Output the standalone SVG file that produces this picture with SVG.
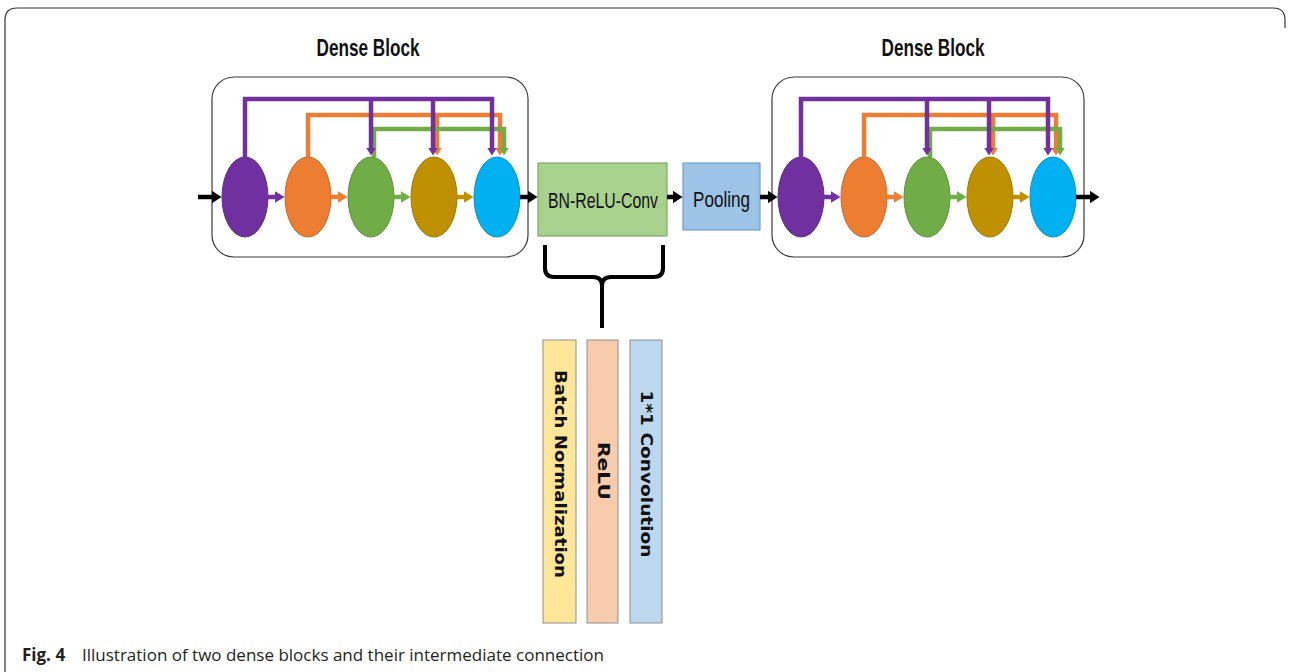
<svg xmlns="http://www.w3.org/2000/svg" width="1290" height="672" viewBox="0 0 1290 672">
<style>
.frame{fill:none;stroke:#333;stroke-width:1.2}
.blk{fill:#fff;stroke:#3a3a3a;stroke-width:1.2}
.title{font-family:"Liberation Sans Narrow","Liberation Sans",Arial,sans-serif;font-weight:bold;font-size:24px;fill:#111;text-anchor:middle}
.lbl{font-family:"Liberation Sans Narrow","Liberation Sans",Arial,sans-serif;font-size:22px;fill:#111;text-anchor:middle}
.vt{font-family:"DejaVu Sans",sans-serif;font-weight:bold;font-size:15px;fill:#111;text-anchor:middle;dominant-baseline:central}
.cap{font-family:"Open Sans",sans-serif;font-size:17px;fill:#231f20}
.c{fill:none;stroke-width:4.5;stroke-linecap:butt;stroke-linejoin:miter}
.p{stroke:#7030a0}.o{stroke:#ed7d31}.g{stroke:#70ad47}.y{stroke:#bf9000}.k{stroke:#000}
.mP{marker-end:url(#mP)}.mO{marker-end:url(#mO)}.mG{marker-end:url(#mG)}.mY{marker-end:url(#mY)}.mK{marker-end:url(#mK)}
.hP{marker-end:url(#hP)}.hO{marker-end:url(#hO)}.hG{marker-end:url(#hG)}.hY{marker-end:url(#hY)}
</style>
<defs>
<marker id="mP" markerUnits="userSpaceOnUse" markerWidth="8" markerHeight="10" refX="0.5" refY="5" orient="auto"><path d="M0,0 L8,5 L0,10 z" fill="#7030a0"/></marker>
<marker id="mO" markerUnits="userSpaceOnUse" markerWidth="8" markerHeight="10" refX="0.5" refY="5" orient="auto"><path d="M0,0 L8,5 L0,10 z" fill="#ed7d31"/></marker>
<marker id="mG" markerUnits="userSpaceOnUse" markerWidth="8" markerHeight="10" refX="0.5" refY="5" orient="auto"><path d="M0,0 L8,5 L0,10 z" fill="#70ad47"/></marker>
<marker id="mY" markerUnits="userSpaceOnUse" markerWidth="8" markerHeight="10" refX="0.5" refY="5" orient="auto"><path d="M0,0 L8,5 L0,10 z" fill="#bf9000"/></marker>
<marker id="hP" markerUnits="userSpaceOnUse" markerWidth="10" markerHeight="12" refX="0.5" refY="6" orient="auto"><path d="M0,0 L10,6 L0,12 z" fill="#7030a0"/></marker>
<marker id="hO" markerUnits="userSpaceOnUse" markerWidth="10" markerHeight="12" refX="0.5" refY="6" orient="auto"><path d="M0,0 L10,6 L0,12 z" fill="#ed7d31"/></marker>
<marker id="hG" markerUnits="userSpaceOnUse" markerWidth="10" markerHeight="12" refX="0.5" refY="6" orient="auto"><path d="M0,0 L10,6 L0,12 z" fill="#70ad47"/></marker>
<marker id="hY" markerUnits="userSpaceOnUse" markerWidth="10" markerHeight="12" refX="0.5" refY="6" orient="auto"><path d="M0,0 L10,6 L0,12 z" fill="#bf9000"/></marker>
<marker id="mK" markerUnits="userSpaceOnUse" markerWidth="10" markerHeight="13" refX="0.5" refY="6.5" orient="auto"><path d="M0,0 L10,6.5 L0,13 z" fill="#000"/></marker>
</defs>
<rect width="1290" height="672" fill="#fff"/>
<path class="frame" d="M5,672 V20 Q5,8 17,8 H1273 Q1285,8 1285,20 V28"/>

<g id="block1">
<text class="title" x="368" y="56" textLength="103" lengthAdjust="spacingAndGlyphs">Dense Block</text>
<rect class="blk" x="212" y="77" width="316" height="180" rx="22"/>
</g>
<g id="b1n1"><ellipse cx="245" cy="197" rx="23" ry="40" fill="#7030a0" stroke="#5e2a88" stroke-width="1"/></g>
<g id="b1n2"><ellipse cx="308" cy="197" rx="23" ry="40" fill="#ed7d31" stroke="#c9682a" stroke-width="1"/></g>
<g id="b1n3"><ellipse cx="371" cy="197" rx="23" ry="40" fill="#70ad47" stroke="#5d9139" stroke-width="1"/></g>
<g id="b1n4"><ellipse cx="434" cy="197" rx="23" ry="40" fill="#bf9000" stroke="#9e7800" stroke-width="1"/></g>
<g id="b1n5"><ellipse cx="497" cy="197" rx="23" ry="40" fill="#00b0f0" stroke="#0093c8" stroke-width="1"/></g>

<g id="block2">
<text class="title" x="933" y="56" textLength="103" lengthAdjust="spacingAndGlyphs">Dense Block</text>
<rect class="blk" x="772" y="77" width="312" height="180" rx="22"/>
</g>
<g id="b2n1"><ellipse cx="801" cy="197" rx="23" ry="40" fill="#7030a0" stroke="#5e2a88" stroke-width="1"/></g>
<g id="b2n2"><ellipse cx="864" cy="197" rx="23" ry="40" fill="#ed7d31" stroke="#c9682a" stroke-width="1"/></g>
<g id="b2n3"><ellipse cx="927" cy="197" rx="23" ry="40" fill="#70ad47" stroke="#5d9139" stroke-width="1"/></g>
<g id="b2n4"><ellipse cx="990" cy="197" rx="23" ry="40" fill="#bf9000" stroke="#9e7800" stroke-width="1"/></g>
<g id="b2n5"><ellipse cx="1053" cy="197" rx="23" ry="40" fill="#00b0f0" stroke="#0093c8" stroke-width="1"/></g>

<g id="bnrelu">
<rect x="538" y="163" width="129" height="73" fill="#a9d18e" stroke="#7fa866" stroke-width="1.2"/>
<text class="lbl" x="603" y="208" textLength="110" lengthAdjust="spacingAndGlyphs">BN-ReLU-Conv</text>
</g>
<g id="pooling">
<rect x="683" y="163" width="77" height="67" fill="#9dc3e6" stroke="#6f9ecf" stroke-width="1.2"/>
<text class="lbl" x="721.5" y="207" textLength="57" lengthAdjust="spacingAndGlyphs">Pooling</text>
</g>
<g id="brace">
<path d="M545,245 V268 Q545,277 554,277 H593 Q602,277 602,286 V328 M663,245 V268 Q663,277 654,277 H611 Q602,277 602,286" fill="none" stroke="#000" stroke-width="4"/>
</g>
<g id="batchnorm">
<rect x="543" y="340" width="33" height="283" fill="#ffe699" stroke="#8f8f8f" stroke-width="1"/>
<text class="vt" transform="translate(559.5,474) rotate(90)" textLength="208" lengthAdjust="spacingAndGlyphs">Batch Normalization</text>
</g>
<g id="relu">
<rect x="587" y="340" width="31" height="283" fill="#f8cbad" stroke="#8f8f8f" stroke-width="1"/>
<text class="vt" transform="translate(602.5,471) rotate(90)" textLength="58" lengthAdjust="spacingAndGlyphs">ReLU</text>
</g>
<g id="conv">
<rect x="630" y="340" width="32" height="283" fill="#bdd7ee" stroke="#8f8f8f" stroke-width="1"/>
<text class="vt" transform="translate(646,474) rotate(90)" textLength="167" lengthAdjust="spacingAndGlyphs">1*1 Convolution</text>
</g>

<g id="connectors">
<g id="conn-b1">
<path class="c o mO" d="M308,157 V115 H500 V148"/>
<path class="c o mO" d="M437,115 V148"/>
<path class="c g mG" d="M374,157 V129 H504 V148"/>
<path class="c p mP" d="M245,157 V99 H492 V148"/>
<path class="c p mP" d="M371,99 V148"/>
<path class="c p mP" d="M433,99 V148"/>
<path class="c p hP" d="M268,197 H275"/>
<path class="c o hO" d="M331,197 H338"/>
<path class="c g hG" d="M394,197 H401"/>
<path class="c y hY" d="M457,197 H464"/>
</g>
<g id="conn-b2" transform="translate(556,0)">
<path class="c o mO" d="M308,157 V115 H500 V148"/>
<path class="c o mO" d="M437,115 V148"/>
<path class="c g mG" d="M374,157 V129 H504 V148"/>
<path class="c p mP" d="M245,157 V99 H492 V148"/>
<path class="c p mP" d="M371,99 V148"/>
<path class="c p mP" d="M433,99 V148"/>
<path class="c p hP" d="M268,197 H275"/>
<path class="c o hO" d="M331,197 H338"/>
<path class="c g hG" d="M394,197 H401"/>
<path class="c y hY" d="M457,197 H464"/>
</g>
<path class="c k mK" d="M198,197 H212"/>
<path class="c k mK" d="M520,197 H528"/>
<path class="c k mK" d="M667,197 H673"/>
<path class="c k mK" d="M760,197 H768"/>
<path class="c k mK" d="M1076,197 H1090"/>
</g>

<text class="cap" x="22" y="661"><tspan font-weight="bold">Fig. 4</tspan><tspan x="82">Illustration of two dense blocks and their intermediate connection</tspan></text>
</svg>
